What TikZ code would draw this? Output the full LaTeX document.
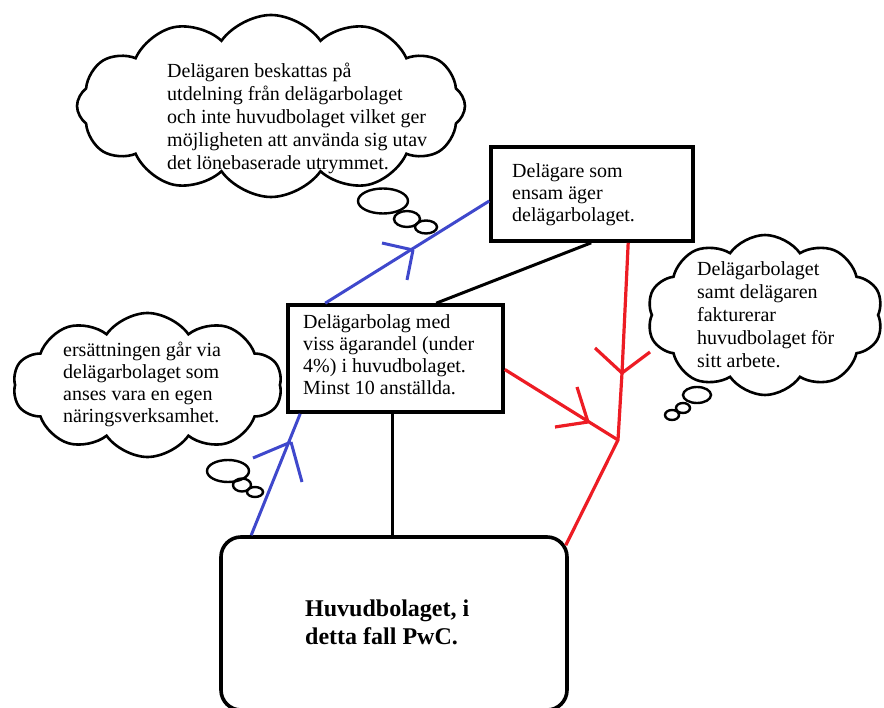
\documentclass[tikz,border=0pt]{standalone}
\usepackage{fontspec}
\setmainfont{Liberation Serif}
\usetikzlibrary{shapes.symbols,calc}
\definecolor{myblue}{RGB}{63,72,204}
\definecolor{myred}{RGB}{237,28,36}
\begin{document}
\begin{tikzpicture}[x=1pt,y=-1pt,
  txt/.style={anchor=north west, inner sep=0pt, align=left, font=\fontsize{20}{23}\selectfont},
  boxst/.style={draw, line width=3.6pt, inner sep=0pt},
  cloudst/.style={cloud, draw, line width=2.6pt, cloud ignores aspect, inner sep=0pt, cloud puff arc=110},
  bub/.style={draw, line width=2.4pt},
  blueln/.style={draw=myblue, line width=3pt},
  redln/.style={draw=myred, line width=3.2pt},
  blackln/.style={draw, line width=3pt}]
\useasboundingbox (0,0) rectangle (884,708);

% clouds
\node[cloudst, cloud puffs=12, minimum width=388pt, minimum height=182pt] (c1) at (271,106) {};
\node[cloudst, cloud puffs=10, minimum width=269pt, minimum height=144pt] (c2) at (147.5,385) {};
\node[cloudst, cloud puffs=10, minimum width=236pt, minimum height=160pt] (c3) at (765,315) {};

% thought bubbles
\draw[bub] (383,201) ellipse [x radius=25, y radius=12.5];
\draw[bub] (407,219) ellipse [x radius=13, y radius=8];
\draw[bub] (426,227) ellipse [x radius=11, y radius=6.5];
\draw[bub] (228,471) ellipse [x radius=21, y radius=11];
\draw[bub] (242,485) ellipse [x radius=9, y radius=6.5];
\draw[bub] (255,492) ellipse [x radius=8, y radius=5];
\draw[bub] (697,395) ellipse [x radius=14, y radius=8];
\draw[bub] (683,408) ellipse [x radius=7, y radius=5];
\draw[bub] (672,415) ellipse [x radius=7, y radius=5];

% boxes
\node[boxst, minimum width=202pt, minimum height=94pt] (d) at (592,194) {};
\node[boxst, minimum width=215pt, minimum height=107pt] (b) at (395.5,358.5) {};
\node[boxst, rounded corners=20pt, minimum width=346pt, minimum height=173pt] (h) at (394,623.5) {};

% texts
\node[txt] (t1) at (167,61) {\strut Delägaren beskattas på\\utdelning från delägarbolaget\\och inte huvudbolaget vilket ger\\möjligheten att använda sig utav\\det lönebaserade utrymmet.};
\node[txt, font=\fontsize{20}{22}\selectfont] (t2) at (63,341) {\strut ersättningen går via\\delägarbolaget som\\anses vara en egen\\näringsverksamhet.};
\node[txt] (t3) at (697,259) {\strut Delägarbolaget\\samt delägaren\\fakturerar\\huvudbolaget för\\sitt arbete.};
\node[txt, font=\fontsize{20}{22}\selectfont] (td) at (512,162) {\strut Delägare som\\ensam äger\\delägarbolaget.};
\node[txt, font=\fontsize{20}{22}\selectfont] (tb) at (303,313) {\strut Delägarbolag med\\viss ägarandel (under\\4\%) i huvudbolaget.\\Minst 10 anställda.};
\node[txt, font=\fontsize{24}{28}\selectfont\bfseries] (th) at (305,597) {\strut Huvudbolaget, i\\detta fall PwC.};

% black connectors
\draw[blackln] ([xshift=102pt]d.south west) -- ([xshift=150pt]b.north west);
\draw[blackln] ([xshift=-3.5pt]b.south) -- ([xshift=-3.5pt]b.south |- h.north);

% blue connectors
\coordinate (B1) at (291,442);
\coordinate (B2) at (413,250);
\draw[blueln] ([xshift=32pt]h.north west) -- ([xshift=14pt]b.south west);
\draw[blueln] (B1) -- ++(-38,16) (B1) -- ++(11,40);
\draw[blueln] ([xshift=39pt]b.north west) -- ([yshift=-7pt]d.west);
\draw[blueln] (B2) -- ++(-31,-7) (B2) -- ++(-6,30);

% red connectors
\coordinate (R1) at (622,373);
\coordinate (J) at (618,440);
\coordinate (R2) at (588,422);
\draw[redln] ([xshift=139pt]d.south west) -- (R1) -- (J) -- ([xshift=-3pt,yshift=-10pt]h.north east);
\draw[redln] (R1) -- ++(-27,-25) (R1) -- ++(28,-21);
\draw[redln] ([yshift=-11pt]b.east) -- (J);
\draw[redln] (R2) -- ++(-11,-35) (R2) -- ++(-33,5);
\end{tikzpicture}
\end{document}
